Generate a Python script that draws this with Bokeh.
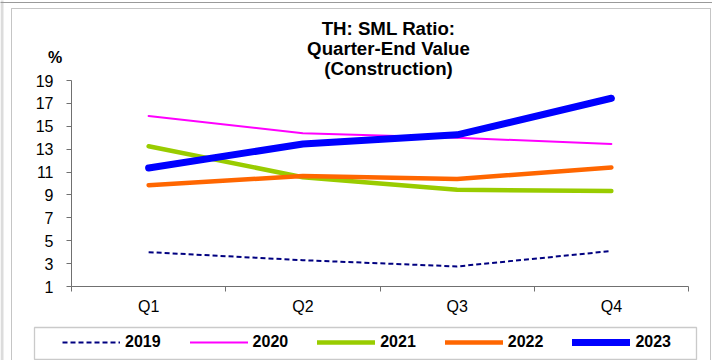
from bokeh.plotting import figure
from bokeh.models import (Range1d, FixedTicker, Legend, LegendItem, Label,
                          BoxAnnotation, ColumnDataSource)
from bokeh.embed import file_html
from bokeh.resources import INLINE

quarters = ["Q1", "Q2", "Q3", "Q4"]
years = ["2019", "2020", "2021", "2022", "2023"]
s2019 = [4.0, 3.3, 2.75, 4.1]
s2020 = [15.9, 14.4, 14.0, 13.45]
s2021 = [13.25, 10.55, 9.45, 9.35]
s2022 = [9.85, 10.65, 10.4, 11.4]
s2023 = [11.35, 13.45, 14.25, 17.45]
y_ticks = [1, 3, 5, 7, 9, 11, 13, 15, 17, 19]
title_lines = ["TH: SML Ratio:", "Quarter-End Value", "(Construction)"]

series = [s2019, s2020, s2021, s2022, s2023]
colors = ["#000080", "#FF00FF", "#99CC00", "#FF6600", "#0000FF"]
widths = [2, 2, 4.5, 4.5, 7]
dashes = ["5 3", "solid", "solid", "solid", "solid"]

FONT = "Liberation Sans"
W, H = 712, 360
# plot area in canvas pixels
PL, PR, PT, PB = 71, 688, 80, 286
ymin, ymax = 1, 19
n = len(quarters)
sx = (PR - PL) / n
sy = (PB - PT) / (ymax - ymin)

p = figure(width=W, height=H, output_backend="svg", toolbar_location=None,
           x_range=Range1d(-PL / sx, n + (W - PR) / sx),
           y_range=Range1d(ymin - (H - PB) / sy, ymax + PT / sy),
           min_border=0)
p.outline_line_color = None
p.xgrid.visible = False
p.ygrid.visible = False
p.background_fill_color = "white"
p.border_fill_color = "white"

def px_x(v):
    return (v - PL) / sx

def px_y(v):
    return ymax + (PT - v) / sy

# background decorations (outer chart border, screenshot edges)
p.add_layout(BoxAnnotation(left=px_x(0), right=px_x(3), top=px_y(-5), bottom=px_y(400),
                           fill_color="#dcdcdc", fill_alpha=1, line_alpha=0,
                           level="underlay"))
p.add_layout(BoxAnnotation(left=px_x(-5), right=px_x(720), top=px_y(1.5), bottom=px_y(2.5),
                           fill_color="#9a9a9a", fill_alpha=1, line_alpha=0,
                           level="underlay"))
p.add_layout(BoxAnnotation(left=px_x(11), right=px_x(710), top=px_y(8), bottom=px_y(400),
                           fill_alpha=0, line_color="#404040", line_width=1,
                           level="underlay"))
# legend box
p.add_layout(BoxAnnotation(left=px_x(34), right=px_x(696), top=px_y(327), bottom=px_y(359),
                           fill_color="white", fill_alpha=1,
                           line_color="#505050", line_width=1.3,
                           level="underlay"))

xc = [i + 0.5 for i in range(n)]
src = ColumnDataSource(dict(x=xc, **{f"y{y}": s for y, s in zip(years, series)}))

items = []
for y, c, w, d in zip(years, colors, widths, dashes):
    r = p.line("x", f"y{y}", source=src, line_color=c, line_width=w,
               line_dash=d, line_cap="round" if d == "solid" else "butt",
               line_join="round")
    items.append(LegendItem(label=y, renderers=[r]))

axis_col = "#707070"
xa = p.xaxis[0]
xa.fixed_location = ymin
xa.bounds = (0, n)
xa.ticker = FixedTicker(ticks=xc, minor_ticks=list(range(n + 1)))
xa.major_label_overrides = {v: q for v, q in zip(xc, quarters)}
xa.major_tick_out = 0
xa.major_tick_in = 0
xa.minor_tick_out = 5
xa.minor_tick_in = 0
xa.axis_line_color = axis_col
xa.minor_tick_line_color = axis_col
xa.major_label_text_font = FONT
xa.major_label_text_font_size = "16px"
xa.major_label_text_color = "black"
xa.major_label_standoff = 6

ya = p.yaxis[0]
ya.fixed_location = 0
ya.bounds = (ymin, ymax)
ya.ticker = FixedTicker(ticks=y_ticks, minor_ticks=[])
ya.major_tick_out = 5
ya.major_tick_in = 0
ya.minor_tick_out = 0
ya.minor_tick_in = 0
ya.axis_line_color = axis_col
ya.major_tick_line_color = axis_col
ya.major_label_text_font = FONT
ya.major_label_text_font_size = "16px"
ya.major_label_text_color = "black"
ya.major_label_standoff = 13

for txt, py in zip(title_lines, [28.3, 48.3, 68.3]):
    p.add_layout(Label(x=px_x(388), y=px_y(py), text=txt, text_align="center",
                       text_baseline="middle", text_font=FONT,
                       text_font_size="18.67px", text_font_style="bold",
                       text_color="black"))

p.add_layout(Label(x=px_x(54.5), y=px_y(57), text="%", text_align="center",
                   text_baseline="middle", text_font=FONT,
                   text_font_size="16px", text_font_style="bold",
                   text_color="black"))

legend = Legend(items=items, orientation="horizontal", location=(62, H - 352),
                padding=0, margin=0, spacing=29, glyph_width=58,
                glyph_height=20, label_height=20, label_standoff=5,
                label_text_font=FONT, label_text_font_size="16px",
                label_text_font_style="bold", label_text_color="black",
                border_line_alpha=0, background_fill_alpha=0)
p.add_layout(legend, "center")

open("out.html", "w").write(file_html(p, INLINE))
